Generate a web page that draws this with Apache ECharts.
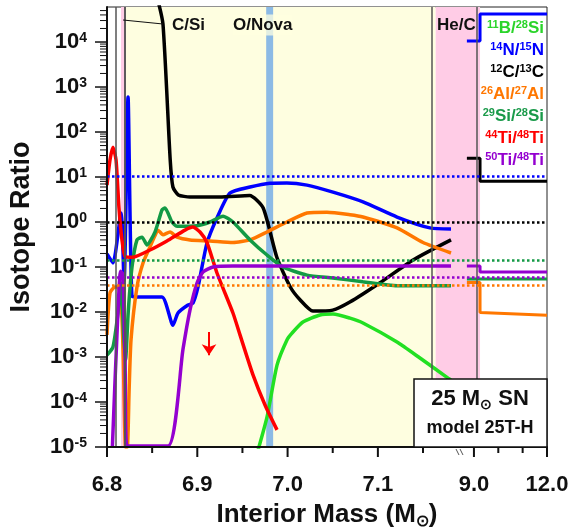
<!DOCTYPE html>
<html>
<head>
<meta charset="utf-8">
<script src="https://cdn.jsdelivr.net/npm/echarts@6/dist/echarts.min.js"></script>
<style>
html, body { margin: 0; padding: 0; background: #fff; }
#chart { width: 572px; height: 531px; }
</style>
</head>
<body>
<div id="chart"></div>
<script>
const FONT = '"Liberation Sans", Arial, sans-serif'
const W = 572
const H = 531

// broken x axis: 6.8-7.2 linear, then 9-12 squeezed
const BREAK_AT = 7.2
const X9 = 7.2064
const OUTER_SCALE = 0.02697
function toX (m) { return m <= BREAK_AT ? m : X9 + (m - 9) * OUTER_SCALE }
function fromX (x) { return x <= BREAK_AT ? x : 9 + (x - X9) / OUTER_SCALE }

const xLabelMass = [6.8, 6.9, 7.0, 7.1, 9.0, 12.0]
const xMinorMass = [6.85, 6.95, 7.05, 7.15, 10.0, 11.0]
const yDecades = [-5, -4, -3, -2, -1, 0, 1, 2, 3, 4]
const X_MIN = 6.8
const X_MAX = toX(12)
const Y_MIN = 1e-5
const Y_MAX = 6e4

// [interior mass, ratio]
const b11si28 = [[6.9640, 5e-6], [6.9772, 4.6e-5], [6.9883, 6.6e-4], [6.9993, 0.0024], [7.0049, 0.0034], [7.0170, 0.006], [7.0359, 0.0086], [7.0503, 0.0090], [7.0691, 0.0073], [7.0835, 0.0057], [7.1212, 0.00215], [7.1466, 9.5e-4], [7.1777, 3.4e-4], [7.1810, 3.1e-4]]
const n14n15 = [[6.800, 0.195], [6.8066, 0.123], [6.8155, 1.58], [6.8190, 0.05], [6.8233, 600], [6.8277, 0.022], [6.8332, 0.0216], [6.8609, 0.0216], [6.8731, 0.0051], [6.8786, 0.0095], [6.8897, 0.0143], [6.8952, 0.0158], [6.9008, 0.036], [6.9107, 0.34], [6.9218, 1.23], [6.9362, 4.4], [6.9584, 6.0], [6.9805, 7.3], [6.9993, 7.4], [7.0215, 6.6], [7.0503, 4.6], [7.0835, 2.8], [7.1212, 1.29], [7.1577, 0.74], [7.1810, 0.70]]
const n14n15Outer = [[8.71, 1.05e4], [9.25, 1.05e4], [9.25, 4.2e4], [12.0, 4.2e4]]
const c12c13 = [[6.8555, 1e5], [6.862, 2.5e4], [6.8700, 24], [6.8730, 6.0], [6.8790, 4.0], [6.8920, 3.6], [6.9250, 3.6], [6.9580, 3.9], [6.9730, 2.05], [6.9880, 0.167], [7.0030, 0.036], [7.0140, 0.0185], [7.0280, 0.0105], [7.0500, 0.011], [7.0690, 0.0166], [7.1020, 0.044], [7.1390, 0.143], [7.1810, 0.40]]
const c12c13Outer = [[8.71, 26], [9.25, 26], [9.25, 8.1], [12.0, 8.1]]
const al26al27 = [[6.800, 0.0031], [6.8033, 0.0264], [6.8089, 0.036], [6.8122, 0.036], [6.8155, 0.02], [6.8180, 0.001], [6.8205, 1e-5], [6.8225, 1e-5], [6.8245, 1.85e-4], [6.8266, 0.0024], [6.8332, 0.036], [6.8399, 0.123], [6.8476, 0.28], [6.8532, 0.50], [6.8565, 0.66], [6.8620, 0.52], [6.8698, 0.60], [6.8775, 0.46], [6.8919, 0.40], [6.9141, 0.38], [6.9395, 0.35], [6.9584, 0.40], [6.9772, 0.60], [6.9993, 1.0], [7.0215, 1.58], [7.0436, 1.65], [7.0691, 1.45], [7.0835, 1.29], [7.1212, 0.74], [7.1500, 0.35], [7.1810, 0.205]]
const al26al27Outer = [[8.71, 0.045], [9.25, 0.045], [9.25, 0.0097], [12.0, 0.0085]]
const si29si28 = [[6.800, 0.0011], [6.8066, 0.00167], [6.8122, 0.0095], [6.8155, 0.044], [6.8185, 0.003], [6.8205, 8.6e-4], [6.8235, 0.01], [6.8277, 0.1], [6.8332, 0.40], [6.8388, 0.46], [6.8443, 0.31], [6.8532, 0.60], [6.8609, 1.85], [6.8642, 2.05], [6.8720, 1.0], [6.8775, 0.80], [6.8997, 0.83], [6.9140, 1.0], [6.9285, 1.35], [6.9395, 1.0], [6.9584, 0.40], [6.9772, 0.185], [6.9949, 0.10], [7.0215, 0.066], [7.0500, 0.057], [7.0835, 0.047], [7.1212, 0.0385], [7.1810, 0.0385]]
const si29si28Outer = [[8.71, 0.054], [12.0, 0.054]]
const ti44ti48 = [[6.800, 6.6], [6.8033, 24], [6.8066, 46], [6.8100, 24], [6.8133, 2.0], [6.8166, 0.4], [6.8200, 0.17], [6.8288, 0.165], [6.8476, 0.239], [6.8664, 0.38], [6.8864, 0.66], [6.8952, 0.77], [6.9030, 0.60], [6.9107, 0.35], [6.9218, 0.0736], [6.9395, 0.0095], [6.9473, 0.0031], [6.9617, 4.0e-4], [6.9750, 8.6e-5], [6.9883, 2.4e-5]]
const ti50ti48 = [[6.8060, 1.05e-5], [6.8110, 0.003], [6.8150, 0.08], [6.8175, 0.07], [6.8200, 0.001], [6.8220, 1.05e-5], [6.8675, 1.05e-5], [6.8842, 0.0015], [6.8919, 0.011], [6.8997, 0.044], [6.9063, 0.077], [6.9174, 0.10], [6.9395, 0.105], [7.1810, 0.105]]
const ti50ti48Outer = [[8.71, 0.105], [9.25, 0.105], [9.25, 0.0774], [12.0, 0.0774]]

// solar ratios (dotted lines), same order as legendLabels
const solarRatio = [2.8e-5, 10.6, 1.0, 0.041, 0.145, 0.0044, 0.063]
const legendLabels = ['{s|11}B/{s|28}Si', '{s|14}N/{s|15}N', '{s|12}C/{s|13}C', '{s|26}Al/{s|27}Al', '{s|29}Si/{s|28}Si', '{s|44}Ti/{s|48}Ti', '{s|50}Ti/{s|48}Ti']
const colors = ['#22e022', '#0000ff', '#000000', '#ff7700', '#139a45', '#ff0000', '#9400d0']
const legendColors = ['#2ad42a', '#0000ff', '#000000', '#ff7700', '#1a9a4a', '#ff0000', '#9400d0']

// zones (interior mass)
const nearZone = [6.8155, 6.8210]
const oZone = [6.8210, 7.164]
const heZone = [7.164, 9.25]
const oNova = [6.9763, 6.9840]
const arrowAt = [6.913, 0.0036, 0.0011]

const GRID = { left: 107, right: 25, top: 7, bottom: 84 }

const toPts = arr => arr.map(d => [toX(d[0]), d[1]])

function solarMark (i) {
  return {
    silent: true,
    symbol: 'none',
    label: { show: false },
    lineStyle: { color: colors[i], type: [2.5, 2.5], width: 2.5 },
    data: [{ yAxis: solarRatio[i] }]
  }
}

function curve (data, i) {
  return {
    type: 'line',
    data: toPts(data),
    smooth: 0.2,
    symbol: 'none',
    z: 3,
    lineStyle: { color: colors[i], width: 3.5 },
    itemStyle: { color: colors[i] },
    markLine: solarMark(i)
  }
}

function outer (data, i) {
  return {
    type: 'line',
    data: toPts(data),
    symbol: 'none',
    z: 3,
    lineStyle: { color: colors[i], width: 3 },
    itemStyle: { color: colors[i] }
  }
}

const red = curve(ti44ti48, 5)
red.markLine.data.push([
  { coord: [toX(arrowAt[0]), arrowAt[1]], lineStyle: { type: 'solid', width: 2 }, symbol: 'none' },
  { coord: [toX(arrowAt[0]), arrowAt[2]], symbol: 'arrow', symbolSize: 11 }
])

// axis ticks as small line elements on the grid's linear / log mapping
const plotL = GRID.left
const plotR = W - GRID.right
const plotT = GRID.top
const plotB = H - GRID.bottom
const lgMin = Math.log10(Y_MIN)
const lgMax = Math.log10(Y_MAX)
const xPix = p => plotL + (p - X_MIN) / (X_MAX - X_MIN) * (plotR - plotL)
const yPix = v => plotB - (Math.log10(v) - lgMin) / (lgMax - lgMin) * (plotB - plotT)
const seg = (x1, y1, x2, y2, w) => ({ type: 'line', z: 100, shape: { x1: x1, y1: y1, x2: x2, y2: y2 }, style: { stroke: '#111', lineWidth: w } })
const ticks = [seg(plotL, plotT, plotL, plotB + 1, 2), seg(plotL - 1, plotB, plotR, plotB, 2)]
xLabelMass.forEach(m => { const x = xPix(toX(m)); ticks.push(seg(x, plotB, x, plotB + 10, 2)) })
xMinorMass.forEach(m => { const x = xPix(toX(m)); ticks.push(seg(x, plotB, x, plotB + 6, 2)) })
yDecades.forEach(n => {
  const y = yPix(Math.pow(10, n))
  ticks.push(seg(plotL - 12, y, plotL, y, 1.5))
  for (let k = 2; k <= 9; k++) {
    const v = k * Math.pow(10, n)
    if (v < Y_MAX) { const ym = yPix(v); ticks.push(seg(plotL - 7, ym, plotL, ym, 1)) }
  }
})

const labels = [
  { type: 'line', z: 100, shape: { x1: 123, y1: 20, x2: 163, y2: 24 }, style: { stroke: '#111', lineWidth: 1 } },
  { type: 'text', z: 100, style: { text: 'C/Si', x: 172, y: 25, verticalAlign: 'middle', fontSize: 17, fontWeight: 'bold', fontFamily: FONT, fill: '#111' } },
  { type: 'text', z: 100, style: { text: 'O/Nova', x: 233, y: 25, verticalAlign: 'middle', fontSize: 17, fontWeight: 'bold', fontFamily: FONT, fill: '#111', backgroundColor: 'rgba(255,255,224,0.75)', padding: [2, 0, 2, 0] } },
  { type: 'text', z: 100, style: { text: 'He/C', x: 437, y: 25, verticalAlign: 'middle', fontSize: 17, fontWeight: 'bold', fontFamily: FONT, fill: '#111' } },
  { type: 'line', z: 100, shape: { x1: 456, y1: 449, x2: 459, y2: 455 }, style: { stroke: '#555', lineWidth: 1 } },
  { type: 'line', z: 100, shape: { x1: 460, y1: 449, x2: 463, y2: 455 }, style: { stroke: '#555', lineWidth: 1 } },
  { type: 'rect', z: 100, shape: { x: 414, y: 379, width: 133, height: 68 }, style: { fill: '#fff', stroke: '#111', lineWidth: 1.5 } },
  {
    type: 'text', z: 101,
    style: {
      text: '25 M{sub|⊙} SN', x: 480, y: 399, align: 'center', verticalAlign: 'middle',
      fontSize: 22, fontWeight: 'bold', fontFamily: FONT, fill: '#111',
      rich: { sub: { fontSize: 14, fontWeight: 'bold', fontFamily: FONT, fill: '#111', padding: [12, 0, 0, 0] } }
    }
  },
  { type: 'text', z: 101, style: { text: 'model 25T-H', x: 480, y: 428, align: 'center', verticalAlign: 'middle', fontSize: 18, fontWeight: 'bold', fontFamily: FONT, fill: '#111' } }
]
const legendTexts = legendLabels.map((t, i) => ({
  type: 'text',
  z: 100,
  style: {
    text: t, x: 544, y: 28 + i * 22, align: 'right', verticalAlign: 'middle',
    fontSize: 17, fontWeight: 'bold', fontFamily: FONT, fill: legendColors[i],
    rich: { s: { fontSize: 11, fontWeight: 'bold', fontFamily: FONT, fill: legendColors[i], verticalAlign: 'top' } }
  }
}))

const chart = echarts.init(document.getElementById('chart'))
chart.setOption({
  animation: false,
  textStyle: { fontFamily: FONT },
  grid: Object.assign({ show: true, borderColor: '#222', borderWidth: 1, outerBoundsMode: 'none', containLabel: false }, GRID),
  xAxis: {
    type: 'value',
    min: X_MIN,
    max: X_MAX,
    name: 'Interior Mass (M{sub|⊙})',
    nameLocation: 'middle',
    nameGap: 53,
    nameTextStyle: {
      fontSize: 26, fontWeight: 'bold', color: '#111', fontFamily: FONT, verticalAlign: 'top',
      rich: { sub: { fontSize: 16, fontWeight: 'bold', color: '#111', fontFamily: FONT, padding: [14, 0, 0, 0] } }
    },
    axisLine: { show: true, onZero: false, lineStyle: { color: '#111', width: 2 } },
    axisTick: { show: false },
    axisLabel: {
      customValues: xLabelMass.map(toX),
      formatter: v => fromX(v).toFixed(1),
      margin: 27,
      fontSize: 22, fontWeight: 'bold', color: '#111', fontFamily: FONT
    },
    splitLine: { show: false }
  },
  yAxis: {
    type: 'log',
    min: Y_MIN,
    max: Y_MAX,
    interval: 1,
    name: 'Isotope Ratio',
    nameLocation: 'middle',
    nameGap: 72,
    nameTextStyle: { fontSize: 27, fontWeight: 'bold', color: '#111', fontFamily: FONT },
    axisLine: { show: true, onZero: false, lineStyle: { color: '#111', width: 2 } },
    axisTick: { show: false },
    axisLabel: {
      showMaxLabel: false,
      formatter: v => '{b|10}{s|' + Math.round(Math.log10(v)) + '}',
      margin: 20,
      rich: {
        b: { fontSize: 22, fontWeight: 'bold', color: '#111', fontFamily: FONT, verticalAlign: 'bottom' },
        s: { fontSize: 14, fontWeight: 'bold', color: '#111', fontFamily: FONT, verticalAlign: 'top' }
      }
    },
    splitLine: { show: false }
  },
  graphic: ticks.concat(labels, legendTexts),
  series: [
    {
      type: 'line',
      data: [],
      z: 1,
      silent: true,
      markArea: {
        silent: true,
        data: [
          [{ xAxis: toX(nearZone[0]), itemStyle: { color: '#ffcce6' } }, { xAxis: toX(nearZone[1]) }],
          [{ xAxis: toX(oZone[0]), itemStyle: { color: '#fefee0' } }, { xAxis: toX(oZone[1]) }],
          [{ xAxis: toX(heZone[0]), itemStyle: { color: '#ffcce6' } }, { xAxis: toX(heZone[1]) }]
        ]
      },
      markLine: {
        silent: true,
        symbol: 'none',
        label: { show: false },
        lineStyle: { color: '#555', type: 'solid', width: 1.5 },
        data: [
          { xAxis: toX(6.8138) },
          { xAxis: toX(nearZone[0]) },
          { xAxis: toX(nearZone[1]) },
          { xAxis: toX(heZone[0]) },
          { xAxis: toX(heZone[1]) }
        ]
      }
    },
    curve(b11si28, 0),
    curve(n14n15, 1),
    curve(c12c13, 2),
    curve(al26al27, 3),
    curve(si29si28, 4),
    red,
    curve(ti50ti48, 6),
    outer(n14n15Outer, 1),
    outer(c12c13Outer, 2),
    outer(al26al27Outer, 3),
    outer(si29si28Outer, 4),
    outer(ti50ti48Outer, 6),
    {
      type: 'line',
      data: [],
      z: 10,
      silent: true,
      markArea: {
        silent: true,
        itemStyle: { color: 'rgba(95,160,230,0.72)' },
        data: [[{ xAxis: toX(oNova[0]) }, { xAxis: toX(oNova[1]) }]]
      }
    }
  ]
})
</script>
</body>
</html>
